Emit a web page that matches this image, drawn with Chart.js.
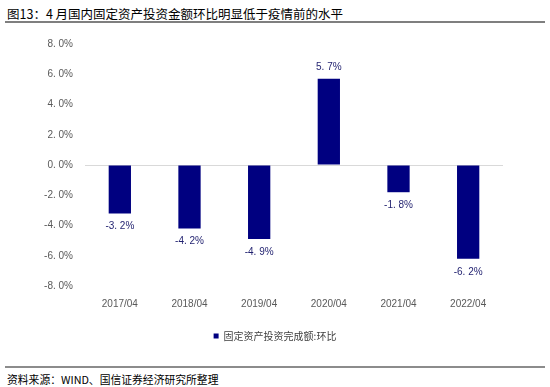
<!DOCTYPE html>
<html>
<head>
<meta charset="utf-8">
<script src="https://cdn.jsdelivr.net/npm/chart.js@4/dist/chart.umd.min.js"></script>
<style>
    body { margin: 0; background: #fff; font-family: "Noto Sans CJK SC", "Liberation Sans", sans-serif; }
    #wrap { position: relative; width: 550px; height: 387px; overflow: hidden; }
    #title { position: absolute; left: 7px; top: 4px; font-size: 12.5px; color: #000; white-space: nowrap; }
    #topLine { position: absolute; left: 5px; top: 21px; width: 540px; height: 2px; background: #7f7f7f; }
    #bottomLine { position: absolute; left: 5px; top: 366px; width: 540px; height: 2px; background: #8c8c8c; }
    #source { position: absolute; left: 7px; top: 371px; font-size: 10.8px; color: #000; white-space: nowrap; }
    #chartBox { position: absolute; left: 0; top: 26px; width: 550px; height: 325px; }
</style>
</head>
<body>
<div id="wrap">
    <div id="title">图13：4 月国内固定资产投资金额环比明显低于疫情前的水平</div>
    <div id="topLine"></div>
    <div id="chartBox"><canvas id="ratioChart" width="550" height="325"></canvas></div>
    <div id="bottomLine"></div>
    <div id="source">资料来源：WIND、国信证券经济研究所整理</div>
</div>
<script>
const categories = ['2017/04', '2018/04', '2019/04', '2020/04', '2021/04', '2022/04'];
const ratioValues = [-3.2, -4.2, -4.9, 5.7, -1.8, -6.2];
const seriesName = '固定资产投资完成额:环比';
const yTicks = [8, 6, 4, 2, 0, -2, -4, -6, -8];

function fmt(v) {
    return v.toFixed(1).replace('.', '. ') + '%';
}

document.addEventListener("DOMContentLoaded", function () {
    const ctx = document.getElementById('ratioChart').getContext('2d');

    // value labels above / below each bar
    const valueLabels = {
        id: 'valueLabels',
        afterDatasetsDraw(chart) {
            const c = chart.ctx;
            const meta = chart.getDatasetMeta(0);
            c.save();
            c.font = '10px "Liberation Sans", sans-serif';
            c.fillStyle = '#1f1f6e';
            c.textAlign = 'center';
            c.textBaseline = 'middle';
            meta.data.forEach(function (bar, i) {
                const v = ratioValues[i];
                const y = v >= 0 ? bar.y - 12 : bar.y + 13;
                c.fillText(fmt(v), bar.x, y);
            });
            c.restore();
        }
    };

    new Chart(ctx, {
        type: 'bar',
        data: {
            labels: categories,
            datasets: [{
                label: seriesName,
                data: ratioValues,
                backgroundColor: '#000080',
                borderWidth: 0,
                categoryPercentage: 1,
                barPercentage: 0.32
            }]
        },
        options: {
            responsive: false,
            animation: false,
            layout: { padding: { left: 0, right: 0, top: 4, bottom: 0 } },
            scales: {
                y: {
                    min: -8,
                    max: 8,
                    afterFit: function (axis) { axis.width = 85; },
                    afterBuildTicks: function (axis) {
                        axis.ticks = yTicks.map(function (v) { return { value: v }; });
                    },
                    border: { display: false },
                    grid: {
                        drawTicks: false,
                        color: function (c) { return c.tick && c.tick.value === 0 ? '#d9d9d9' : 'rgba(0,0,0,0)'; }
                    },
                    ticks: {
                        padding: 12,
                        color: '#595959',
                        font: { family: '"Liberation Sans", sans-serif', size: 10 },
                        callback: function (v) { return fmt(v); }
                    }
                },
                // empty right axis just to keep the plot narrower than the legend row
                yRight: {
                    position: 'right',
                    afterFit: function (axis) { axis.width = 47; },
                    border: { display: false },
                    grid: { display: false },
                    ticks: { display: false }
                },
                x: {
                    afterFit: function (axis) { axis.height = 28; },
                    border: { display: false },
                    grid: { display: false },
                    ticks: {
                        padding: 4,
                        maxRotation: 0,
                        color: '#595959',
                        font: { family: '"Liberation Sans", sans-serif', size: 10 }
                    }
                }
            },
            plugins: {
                legend: {
                    position: 'bottom',
                    labels: {
                        boxWidth: 5,
                        boxHeight: 5,
                        color: '#404040',
                        padding: 17,
                        font: { family: '"Noto Sans CJK SC", sans-serif', size: 10 }
                    }
                },
                tooltip: { enabled: false }
            }
        },
        plugins: [valueLabels]
    });
});
</script>
</body>
</html>
